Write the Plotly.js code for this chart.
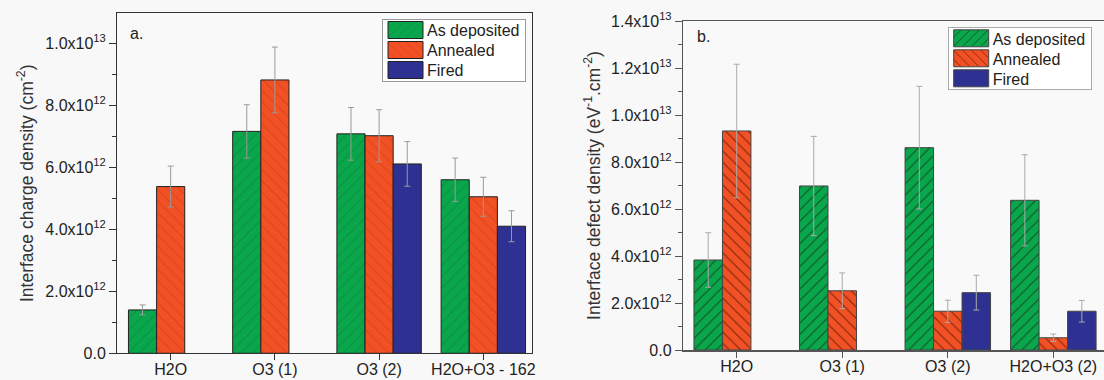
<!DOCTYPE html>
<html>
<head>
<meta charset="utf-8">
<script src="https://cdn.plot.ly/plotly-3.0.1.min.js"></script>
<style>
  html, body { margin: 0; padding: 0; background: #f8f8f8; overflow: hidden; }
  #chart { width: 1104px; height: 380px; }
  g.legendpoints path { d: path("M18,8.5H-17V-8.5H18Z"); }
</style>
</head>
<body>
<div id="chart"></div>
<script>
// ---- Data (panel a: interface charge density, cm^-2) ----
var categoriesA = ['H2O', 'O3 (1)', 'O3 (2)', 'H2O+O3 - 162'];
var asDepositedA = [1.40e12, 7.16e12, 7.08e12, 5.60e12];
var asDepositedErrA = [0.16e12, 0.86e12, 0.85e12, 0.70e12];
var annealedA = [5.38e12, 8.82e12, 7.02e12, 5.05e12];
var annealedErrA = [0.66e12, 1.06e12, 0.84e12, 0.63e12];
var firedA = [null, null, 6.11e12, 4.10e12];
var firedErrA = [null, null, 0.72e12, 0.50e12];

// ---- Data (panel b: interface defect density, eV^-1.cm^-2) ----
var categoriesB = ['H2O', 'O3 (1)', 'O3 (2)', 'H2O+O3 (2)'];
var asDepositedB = [3.83e12, 6.98e12, 8.61e12, 6.37e12];
var asDepositedErrB = [1.16e12, 2.11e12, 2.61e12, 1.94e12];
var annealedB = [9.32e12, 2.52e12, 1.65e12, 0.52e12];
var annealedErrB = [2.84e12, 0.76e12, 0.47e12, 0.16e12];
var firedB = [null, null, 2.44e12, 1.65e12];
var firedErrB = [null, null, 0.74e12, 0.46e12];

var seriesNames = ['As deposited', 'Annealed', 'Fired'];

// ---- Tick labels ----
var tickValsA = [0, 2e12, 4e12, 6e12, 8e12, 1e13];
var tickTextA = ['0.0', '2.0x10<sup>12</sup>', '4.0x10<sup>12</sup>', '6.0x10<sup>12</sup>', '8.0x10<sup>12</sup>', '1.0x10<sup>13</sup>'];
var tickValsB = [0, 2e12, 4e12, 6e12, 8e12, 1e13, 1.2e13, 1.4e13];
var tickTextB = ['0.0', '2.0x10<sup>12</sup>', '4.0x10<sup>12</sup>', '6.0x10<sup>12</sup>', '8.0x10<sup>12</sup>', '1.0x10<sup>13</sup>', '1.2x10<sup>13</sup>', '1.4x10<sup>13</sup>'];

var GREEN = '#0aa64c', ORANGE = '#f15124', BLUE = '#2e3192';
var FONT = '"Liberation Sans", Arial, sans-serif';
var W = 1104, H = 380;

function err(arr, color) {
  return { type: 'data', array: arr, visible: true, color: color, thickness: 1, width: 3 };
}

var traces = [
  // Panel a
  { type: 'bar', x: categoriesA, y: asDepositedA, name: seriesNames[0], xaxis: 'x', yaxis: 'y', legend: 'legend',
    marker: { color: GREEN, line: { color: '#222', width: 1 },
      pattern: { shape: '/', bgcolor: GREEN, fgcolor: '#0b7a3a', fgopacity: 0.55, size: 8, solidity: 0.12 } },
    error_y: err(asDepositedErrA, '#9a9a9a') },
  { type: 'bar', x: categoriesA, y: annealedA, name: seriesNames[1], xaxis: 'x', yaxis: 'y', legend: 'legend',
    marker: { color: ORANGE, line: { color: '#222', width: 1 },
      pattern: { shape: '\\', bgcolor: ORANGE, fgcolor: '#c43a14', fgopacity: 0.55, size: 8, solidity: 0.12 } },
    error_y: err(annealedErrA, '#9a9a9a') },
  { type: 'bar', x: categoriesA, y: firedA, name: seriesNames[2], xaxis: 'x', yaxis: 'y', legend: 'legend',
    marker: { color: BLUE, line: { color: '#222', width: 1 } },
    error_y: err(firedErrA, '#9a9a9a') },
  // Panel b
  { type: 'bar', x: categoriesB, y: asDepositedB, name: seriesNames[0], xaxis: 'x2', yaxis: 'y2', legend: 'legend2',
    marker: { color: GREEN, line: { color: '#444', width: 1 },
      pattern: { shape: '/', bgcolor: GREEN, fgcolor: '#13401f', fgopacity: 0.85, size: 8, solidity: 0.14 } },
    error_y: err(asDepositedErrB, '#aaaaaa') },
  { type: 'bar', x: categoriesB, y: annealedB, name: seriesNames[1], xaxis: 'x2', yaxis: 'y2', legend: 'legend2',
    marker: { color: ORANGE, line: { color: '#444', width: 1 },
      pattern: { shape: '\\', bgcolor: ORANGE, fgcolor: '#6a1e08', fgopacity: 0.85, size: 8, solidity: 0.14 } },
    error_y: err(annealedErrB, '#aaaaaa') },
  { type: 'bar', x: categoriesB, y: firedB, name: seriesNames[2], xaxis: 'x2', yaxis: 'y2', legend: 'legend2',
    marker: { color: BLUE, line: { color: '#444', width: 1 } },
    error_y: err(firedErrB, '#aaaaaa') }
];

var tickFont = { family: FONT, size: 16, color: '#222' };
var titleFont = { family: FONT, size: 17.5, color: '#333' };

var layout = {
  width: W, height: H,
  margin: { l: 0, r: 0, t: 0, b: 0 },
  paper_bgcolor: '#f8f8f8', plot_bgcolor: '#f9f9f9',
  font: { family: FONT, size: 16, color: '#222' },
  barmode: 'group', bargap: 0.19, bargroupgap: 0,
  xaxis: {
    domain: [117 / W, 532 / W], anchor: 'y', type: 'category', range: [-0.515, 3.467],
    showline: true, linecolor: '#333', linewidth: 1, mirror: true,
    ticks: 'outside', ticklen: 6, tickcolor: '#333', tickfont: tickFont, ticklabelstandoff: -5,
    showgrid: false, zeroline: false
  },
  yaxis: {
    domain: [(H - 353.3) / H, (H - 13.3) / H], anchor: 'x', range: [0, 1.097e13],
    tickmode: 'array', tickvals: tickValsA, ticktext: tickTextA, tickfont: tickFont,
    showline: true, linecolor: '#333', linewidth: 1, mirror: true,
    ticks: 'outside', ticklen: 7, tickcolor: '#333',
    minor: { dtick: 1e12, tick0: 0, ticks: 'outside', ticklen: 4, tickcolor: '#333', showgrid: false },
    showgrid: false, zeroline: false,
    title: { text: 'Interface charge density (cm<sup>-2</sup>)', font: titleFont, standoff: 7 }
  },
  xaxis2: {
    domain: [683.3 / W, 1], anchor: 'y2', type: 'category', range: [-0.506, 3.48],
    showline: true, linecolor: '#555', linewidth: 1.5, mirror: true,
    ticks: 'outside', ticklen: 6, tickcolor: '#555', tickfont: tickFont, ticklabelstandoff: -5,
    showgrid: false, zeroline: false
  },
  yaxis2: {
    domain: [(H - 350) / H, (H - 21) / H], anchor: 'x2', range: [0, 1.4e13],
    tickmode: 'array', tickvals: tickValsB, ticktext: tickTextB, tickfont: tickFont,
    showline: true, linecolor: '#555', linewidth: 1.5, mirror: false,
    ticks: 'outside', ticklen: 7, tickcolor: '#555',
    minor: { dtick: 1e12, tick0: 0, ticks: 'outside', ticklen: 4, tickcolor: '#555', showgrid: false },
    showgrid: false, zeroline: false,
    title: { text: 'Interface defect density (eV<sup>-1</sup>.cm<sup>-2</sup>)', font: titleFont, standoff: 6 }
  },
  legend: {
    x: 382 / W, y: 1 - 19 / H, xanchor: 'left', yanchor: 'top',
    bgcolor: '#ffffff', bordercolor: '#999', borderwidth: 1,
    font: { family: FONT, size: 16, color: '#222' }, itemwidth: 34, tracegroupgap: 0
  },
  legend2: {
    x: 947.7 / W, y: 1 - 27.3 / H, xanchor: 'left', yanchor: 'top',
    bgcolor: '#ffffff', bordercolor: '#aaa', borderwidth: 1,
    font: { family: FONT, size: 16, color: '#222' }, itemwidth: 34, tracegroupgap: 0
  },
  annotations: [
    { text: 'a.', xref: 'paper', yref: 'paper', x: 128 / W, y: 1 - 33 / H, xanchor: 'left', yanchor: 'middle',
      showarrow: false, font: { family: FONT, size: 16, color: '#222' } },
    { text: 'b.', xref: 'paper', yref: 'paper', x: 695 / W, y: 1 - 37 / H, xanchor: 'left', yanchor: 'middle',
      showarrow: false, font: { family: FONT, size: 16, color: '#222' } }
  ],
  showlegend: true
};

// Tighten legend rows to the reference's 20 px spacing and widen swatches
function fixLegends() {
  var gd = document.getElementById('chart');
  gd.querySelectorAll('g.legend, g.legend2').forEach(function (lg) {
    var items = lg.querySelectorAll('g.traces');
    items.forEach(function (it, i) {
      var tr = it.getAttribute('transform') || '';
      var m = tr.match(/translate\(\s*([-\d.]+)[ ,]+([-\d.]+)/);
      var x0 = m ? parseFloat(m[1]) : 1;
      it.setAttribute('transform', 'translate(' + x0 + ',' + (11 + 20 * i) + ')');
      var p = it.querySelectorAll('g.legendpoints path');
      p.forEach(function (pp) { pp.setAttribute('d', 'M18,8.5H-17V-8.5H18Z'); });
    });
    var bg = lg.querySelector('rect.bg');
    if (bg && items.length) {
      bg.setAttribute('height', 20 * items.length + 2);
    }
  });
}

Plotly.newPlot('chart', traces, layout, { displayModeBar: false, staticPlot: true }).then(function (gd) {
  fixLegends();
  gd.on('plotly_afterplot', fixLegends);
  setTimeout(fixLegends, 50);
  setTimeout(fixLegends, 300);
});
</script>
</body>
</html>
